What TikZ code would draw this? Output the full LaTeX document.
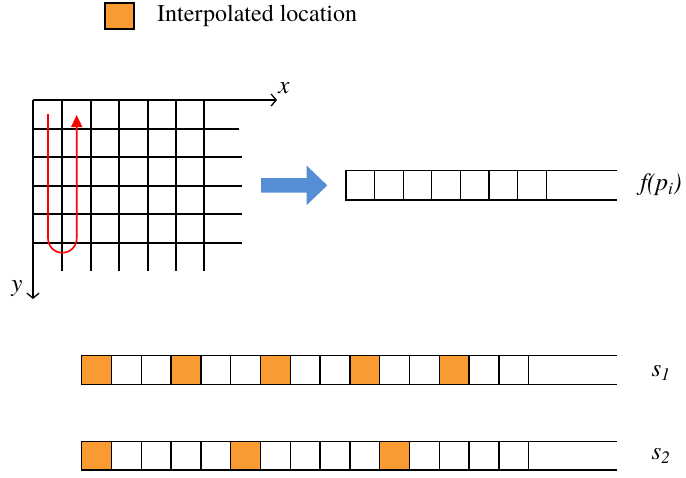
\documentclass[tikz,border=0pt]{standalone}
\usepackage{fontspec}
\setmainfont{texgyretermes}[Extension=.otf,UprightFont=*-regular,ItalicFont=*-italic,BoldFont=*-bold,BoldItalicFont=*-bolditalic]
\usetikzlibrary{arrows.meta}
\definecolor{interp}{RGB}{250,155,50}
\definecolor{flowblue}{RGB}{85,142,213}
\tikzset{
  gridline/.style={line width=1.3pt},
  cellline/.style={line width=1.3pt},
  lbl/.style={inner sep=0pt,font=\fontsize{25}{28}\selectfont\itshape},
}

\begin{document}
\begin{tikzpicture}[x=1pt,y=-1pt]
\useasboundingbox (0,0) rectangle (686,477);
% legend
\draw [cellline,fill=interp] (105,3) rectangle (134,29);
\node [anchor=west,inner sep=0pt,font=\fontsize{24}{28}\selectfont] (legend) at (157,16) {Interpolated location};
% image grid
\draw [gridline] (33,129) -- (239,129);
\foreach \y in {157,186,214,243} \draw [gridline] (33,\y) -- (242,\y);
\foreach \x in {62,91,119,148,176,204} \draw [gridline] (\x,100) -- (\x,271);
\coordinate (origin) at (33,100);
\coordinate (xend) at (277,100);
\coordinate (yend) at (33,299);
\draw [gridline,-{Straight Barb[length=5pt,width=12pt]}] (origin) -- (xend);
\draw [gridline,-{Straight Barb[length=5pt,width=12pt]}] (origin) -- (yend);
\node [lbl] (xlab) at (284,88) {x};
\node [lbl] (ylab) at (17,289) {y};
%\draw [red] (48,114) -- (48,238) arc (180:360:14.2) -- (76.7,115);
\draw [red,line width=1.6pt,rounded corners=14.2pt,-{Triangle[length=12pt,width=11pt]}] (48,114) -- (48,252.7) -- (76.7,252.7) -- (76.7,115);
% flatten arrow
\fill [flowblue] (261,178) -- (306.7,178) -- (306.7,165.7) -- (327.3,185.4) -- (306.7,205) -- (306.7,192.7) -- (261,192.7) -- cycle;
% f(p_i)
\foreach \i in {0,...,6} \draw [cellline] ({346+28.6*\i},170.7) rectangle ++(28.6,29.3);
\draw [cellline] (346,170.7) -- (617,170.7) (346,200) -- (617,200);
\node [lbl] (fp) at (661,185) {f(p\textsubscript{i})};
% s_1
\foreach \i in {0,3,...,12} \fill [interp] ({81.7+29.8*\i},355.7) rectangle ++(29.8,28.6);
\foreach \i in {0,...,14} \draw [cellline] ({81.7+29.8*\i},355.7) rectangle ++(29.8,28.6);
\draw [cellline] (81.7,355.7) -- (617,355.7) (81.7,384.3) -- (617,384.3);
\node [lbl] (s1) at (661,373) {s\textsubscript{1}};
% s_2
\foreach \i in {0,5,10} \fill [interp] ({81.7+29.8*\i},441.7) rectangle ++(29.8,28.3);
\foreach \i in {0,...,14} \draw [cellline] ({81.7+29.8*\i},441.7) rectangle ++(29.8,28.3);
\draw [cellline] (81.7,441.7) -- (617,441.7) (81.7,470) -- (617,470);
\node [lbl] (s2) at (661,456) {s\textsubscript{2}};
\end{tikzpicture}
\end{document}
